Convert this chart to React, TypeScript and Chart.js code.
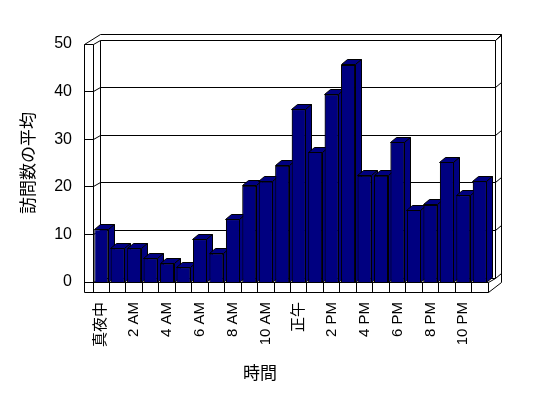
import React, { useEffect, useRef } from 'react';
import { Chart, registerables } from 'chart.js';

Chart.register(...registerables);

const HOURS = [
  '真夜中', '1 AM', '2 AM', '3 AM', '4 AM', '5 AM', '6 AM', '7 AM', '8 AM', '9 AM', '10 AM', '11 AM',
  '正午', '1 PM', '2 PM', '3 PM', '4 PM', '5 PM', '6 PM', '7 PM', '8 PM', '9 PM', '10 PM', '11 PM',
];
const VISITS = [
  11.1, 7.1, 7.1, 5.0, 3.9, 3.1, 9.0, 6.0, 13.2, 20.2, 21.1, 24.4,
  36.3, 27.3, 39.4, 45.6, 22.3, 22.3, 29.4, 15.1, 16.2, 25.2, 18.2, 21.2,
];
const Y_TICKS = [0, 10, 20, 30, 40, 50];
const Y_TITLE = '訪問数の平均';
const X_TITLE = '時間';

const FONT = '"Liberation Sans", "Noto Sans CJK JP", sans-serif';

const BACK = { x: 7, y: -4 };
const BAR_D = { x: 6, y: -5 };
const WALL = 9;
const FLOOR = 10;

const px = (v: number) => Math.floor(v) + 0.5;

const threeD = {
  id: 'threeD',
  beforeDatasetsDraw(chart: any) {
    const { ctx, chartArea: a, scales } = chart;
    const y = scales.y;
    const L = a.left, R = a.right, T = a.top, B = a.bottom;
    const bL = L + BACK.x, bR = R + BACK.x;
    const bT = T + BACK.y, bB = B + BACK.y;
    const oT = T - 10, oR = R + 13.5;
    ctx.save();
    ctx.strokeStyle = '#000';
    ctx.lineWidth = 1;
    const line = (x1: number, y1: number, x2: number, y2: number) => {
      ctx.beginPath();
      ctx.moveTo(px(x1), px(y1));
      ctx.lineTo(px(x2), px(y2));
      ctx.stroke();
    };
    // back wall verticals
    line(bL, bT, bL, bB);
    line(bR, bT, bR, bB);
    // gridlines & ticks
    Y_TICKS.forEach((v) => {
      const yF = y.getPixelForValue(v);
      const yB = yF + BACK.y;
      line(bL, yB, bR, yB);
      line(L - WALL, yF, L, yF);
      line(L, yF, bL, yB);
      line(bR, yB, oR, yB - 5);
    });
    // outer frame
    line(L - WALL, T, bL, oT);
    line(bL, oT, oR, oT);
    line(oR, oT, oR, B + FLOOR - 10);
    line(bR, bT, oR, oT);
    // left wall front face
    line(L - WALL, T, L - WALL, B + FLOOR);
    line(L, T, L, B + FLOOR);
    // floor front face
    line(L - WALL, B + FLOOR, R, B + FLOOR);
    line(L, B, R, B);
    line(R, B, R, B + FLOOR);
    const n = HOURS.length;
    for (let i = 1; i < n; i++) {
      const x = L + ((R - L) * i) / n;
      line(x, B, x, B + FLOOR);
    }
    line(R, B + FLOOR, oR, B + FLOOR - 10);
    line(R, B, bR, bB);
    ctx.restore();
  },
  afterDatasetsDraw(chart: any) {
    const { ctx } = chart;
    const els = chart.getDatasetMeta(0).data;
    ctx.save();
    ctx.strokeStyle = '#000';
    ctx.lineWidth = 1;
    ctx.fillStyle = '#000080';
    const poly = (pts: number[][]) => {
      ctx.beginPath();
      pts.forEach((p, i) => (i ? ctx.lineTo(px(p[0]), px(p[1])) : ctx.moveTo(px(p[0]), px(p[1]))));
      ctx.closePath();
      ctx.fill();
      ctx.stroke();
    };
    for (let i = 0; i < els.length; i++) {
      const el = els[i];
      const { x, y, base, width } = el.getProps(['x', 'y', 'base', 'width'], true);
      const l = x - width / 2, r = x + width / 2;
      ctx.fillStyle = '#000080';
      poly([[l, y], [l + BAR_D.x, y + BAR_D.y], [r + BAR_D.x, y + BAR_D.y], [r, y]]);
      poly([[r, y], [r + BAR_D.x, y + BAR_D.y], [r + BAR_D.x, base + BAR_D.y], [r, base]]);
      if (i + 1 < els.length) {
        ctx.save();
        els[i + 1].draw(ctx);
        ctx.restore();
      }
    }
    ctx.restore();
  },
};

export default function App() {
  const ref = useRef<HTMLCanvasElement>(null);
  useEffect(() => {
    document.body.style.margin = '0';
    const chart = new Chart(ref.current!, {
      type: 'bar',
      data: {
        labels: HOURS,
        datasets: [
          {
            data: VISITS,
            backgroundColor: '#000080',
            borderColor: '#000',
            borderWidth: 1,
            barPercentage: 0.85,
            categoryPercentage: 1,
          },
        ],
      },
      options: {
        responsive: false,
        animation: false,
        devicePixelRatio: 1,
        layout: { padding: { top: 44, right: 28, left: 0, bottom: 0 } },
        plugins: {
          legend: { display: false },
          tooltip: { enabled: false },
          title: {
            display: true,
            position: 'bottom',
            text: X_TITLE,
            color: '#000',
            font: { size: 17, family: FONT, weight: 'normal' },
            padding: { top: 5, bottom: 13 },
          },
        },
        scales: {
          x: {
            grid: { display: false, drawTicks: false },
            border: { display: false },
            ticks: {
              autoSkip: false,
              minRotation: 90,
              maxRotation: 90,
              padding: 20,
              color: '#000',
              font: { size: 15, family: FONT },
              callback: (_v: any, i: number) => (i % 2 === 0 ? HOURS[i] : ''),
            },
            afterFit: (s: any) => {
              s.height = 77.6;
            },
          },
          y: {
            min: 0,
            max: 50,
            grid: { display: false, drawTicks: false },
            border: { display: false },
            afterBuildTicks: (s: any) => {
              s.ticks = Y_TICKS.map((v) => ({ value: v }));
            },
            ticks: {
              padding: 21,
              color: '#000',
              font: { size: 16, family: FONT },
            },
            title: {
              display: true,
              text: Y_TITLE,
              color: '#000',
              font: { size: 17, family: FONT },
              padding: { top: 19, bottom: 0 },
            },
            afterFit: (s: any) => {
              s.width = 93;
            },
          },
          yRight: {
            position: 'right',
            display: true,
            grid: { display: false, drawTicks: false },
            border: { display: false },
            ticks: { display: false },
            afterFit: (s: any) => {
              s.width = 32;
            },
          },
        },
      },
      plugins: [threeD],
    } as any);
    return () => chart.destroy();
  }, []);
  return <canvas ref={ref} width={548} height={398} style={{ display: 'block' }} />;
}
